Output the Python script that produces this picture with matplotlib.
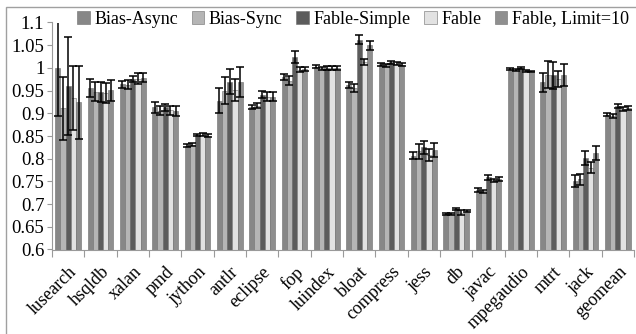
import numpy as np
import matplotlib
matplotlib.use("Agg")
import matplotlib.pyplot as plt
from matplotlib.ticker import FuncFormatter
from matplotlib.patches import Rectangle

plt.rcParams["font.family"] = ["Liberation Serif", "DejaVu Serif"]

benchmarks = ["lusearch", "hsqldb", "xalan", "pmd", "jython", "antlr", "eclipse",
              "fop", "luindex", "bloat", "compress", "jess", "db", "javac",
              "mpegaudio", "mtrt", "jack", "geomean"]

series = ["Bias-Async", "Bias-Sync", "Fable-Simple", "Fable", "Fable, Limit=10"]

bias_async = [1.000, 0.955, 0.964, 0.913, 0.829, 0.928, 0.914, 0.980, 1.003, 0.962,
              1.008, 0.807, 0.678, 0.731, 0.997, 0.968, 0.751, 0.897]
bias_sync = [0.911, 0.948, 0.963, 0.906, 0.831, 0.950, 0.917, 0.972, 0.999, 0.956,
             1.006, 0.816, 0.678, 0.728, 0.995, 0.985, 0.755, 0.894]
fable_simple = [0.960, 0.947, 0.975, 0.913, 0.852, 0.970, 0.941, 1.024, 1.000, 1.062,
                1.012, 0.825, 0.689, 0.759, 1.000, 0.984, 0.801, 0.916]
fable = [0.934, 0.945, 0.976, 0.907, 0.853, 0.952, 0.937, 0.996, 1.000, 1.013,
         1.009, 0.808, 0.681, 0.752, 0.994, 0.976, 0.780, 0.910]
fable_limit = [0.924, 0.951, 0.978, 0.905, 0.851, 0.969, 0.937, 0.998, 1.000, 1.050,
               1.007, 0.819, 0.685, 0.755, 0.992, 0.985, 0.812, 0.912]

err_bias_async = [0.107, 0.020, 0.008, 0.012, 0.004, 0.028, 0.005, 0.007, 0.004, 0.007,
                  0.003, 0.008, 0.003, 0.004, 0.002, 0.020, 0.013, 0.004]
err_bias_sync = [0.069, 0.020, 0.010, 0.010, 0.004, 0.030, 0.006, 0.010, 0.004, 0.008,
                 0.003, 0.016, 0.003, 0.004, 0.002, 0.030, 0.012, 0.004]
err_fable_simple = [0.107, 0.023, 0.007, 0.007, 0.003, 0.027, 0.008, 0.013, 0.004, 0.010,
                    0.003, 0.014, 0.002, 0.006, 0.002, 0.030, 0.015, 0.004]
err_fable = [0.070, 0.022, 0.012, 0.010, 0.004, 0.024, 0.010, 0.006, 0.004, 0.007,
             0.003, 0.014, 0.006, 0.004, 0.002, 0.018, 0.012, 0.004]
err_fable_limit = [0.080, 0.023, 0.010, 0.010, 0.004, 0.033, 0.010, 0.005, 0.004, 0.010,
                   0.003, 0.016, 0.002, 0.004, 0.002, 0.024, 0.015, 0.004]

values = [bias_async, bias_sync, fable_simple, fable, fable_limit]
errors = [err_bias_async, err_bias_sync, err_fable_simple, err_fable, err_fable_limit]
colors = ["#878787", "#b5b5b5", "#5c5c5c", "#e2e2e2", "#8f8f8f"]

fig = plt.figure(figsize=(6.36, 3.34), dpi=100)
ax = fig.add_axes([52 / 636, 1 - 249.5 / 334, 582 / 636, 227 / 334])

x = np.arange(len(benchmarks))
width = 0.16
for i in range(5):
    pos = x + 0.1 + width * (i + 0.5)
    ax.bar(pos, values[i], width, bottom=0, color=colors[i], edgecolor="#6e6e6e",
           linewidth=0.4, label=series[i], zorder=2)
    ax.errorbar(pos, values[i], yerr=errors[i], fmt="none", ecolor="black",
                elinewidth=1.1, capsize=2.6, capthick=1.1, zorder=3)

ax.set_xlim(0, len(benchmarks))
ax.set_ylim(0.6, 1.1)
ax.set_yticks(np.arange(0.6, 1.1001, 0.05))
ax.yaxis.set_major_formatter(FuncFormatter(lambda v, p: "%g" % round(v, 2)))
ax.set_xticks(np.arange(len(benchmarks) + 1))
ax.set_xticklabels([])
ax.set_xticks(x + 0.5, minor=True)
ax.set_xticklabels(benchmarks, minor=True, rotation=45, ha="right", va="top",
                   rotation_mode="anchor", fontsize=13)
ax.tick_params(axis="x", which="minor", length=0, pad=10)
ax.tick_params(axis="x", which="major", length=5, color="#9a9a9a")
ax.tick_params(axis="y", length=3.5, color="#9a9a9a", labelsize=13.5, pad=2)

for side in ["top", "right"]:
    ax.spines[side].set_visible(False)
for side in ["left", "bottom"]:
    ax.spines[side].set_color("#9a9a9a")

fig.legend(loc="center", bbox_to_anchor=(0.555, 1 - 19 / 334), ncol=5, frameon=False,
           fontsize=13, handlelength=0.7, handleheight=0.7, handletextpad=0.25,
           columnspacing=0.75, borderaxespad=0)

fig.patches.append(Rectangle((6 / 636, -0.1), 1.2, 1.1 - 7 / 334, transform=fig.transFigure,
                             fill=False, edgecolor="#a0a0a0", linewidth=1.0))

fig.savefig("out.png", dpi=100)
